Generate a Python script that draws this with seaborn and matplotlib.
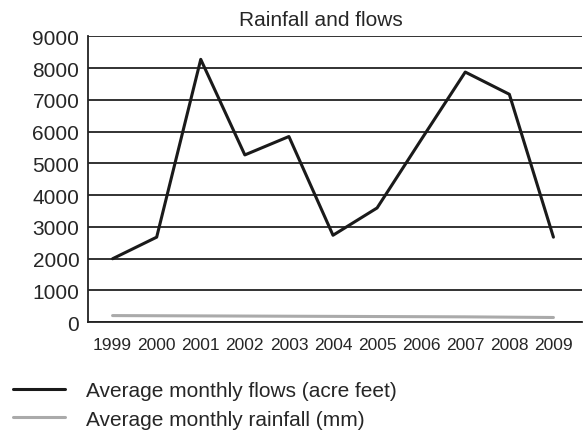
import matplotlib
matplotlib.use("Agg")
import matplotlib.pyplot as plt
import matplotlib.transforms as mtransforms
import pandas as pd
import seaborn as sns

# 値は画像から読み取った推定値
years = [1999, 2000, 2001, 2002, 2003, 2004, 2005, 2006, 2007, 2008, 2009]
flows = [2000, 2680, 8280, 5270, 5850, 2740, 3600, 5750, 7880, 7180, 2680]
rainfall = [210, 205, 200, 195, 190, 185, 180, 175, 170, 160, 150]
y_ticks = [0, 1000, 2000, 3000, 4000, 5000, 6000, 7000, 8000, 9000]
# 横軸ラベルの上下のずれ (px)
label_shift = [0, -1, 0, -3, -1, -2, -2, 0, 0, -2, 3]

df = pd.DataFrame({"year": years, "flows": flows, "rainfall": rainfall})

sns.set_theme(style="white")
plt.rcParams["font.family"] = ["Liberation Sans", "DejaVu Sans"]

fig = plt.figure(figsize=(5.85, 4.31), dpi=100)
ax = fig.add_axes([0.151, 0.25, 0.844, 0.663])

for y in y_ticks:
    ax.axhline(y, color="#222222", linewidth=1.3, zorder=1)

sns.lineplot(data=df, x="year", y="rainfall", ax=ax, color="#aaaaaa",
             linewidth=2.2, label="Average monthly rainfall (mm)", zorder=2)
sns.lineplot(data=df, x="year", y="flows", ax=ax, color="#1a1a1a",
             linewidth=2.2, label="Average monthly flows (acre feet)", zorder=3)

ax.set_xlim(1998.45, 2009.65)
ax.set_ylim(0, 9000)
ax.set_yticks(y_ticks)
ax.set_xticks(years)
ax.set_xticklabels([str(y) for y in years], fontsize=12.5)
for lab, dy in zip(ax.get_xticklabels(), label_shift):
    lab.set_transform(lab.get_transform()
                      + mtransforms.ScaledTranslation(0, dy / 100, fig.dpi_scale_trans))
ax.tick_params(axis="y", labelsize=15, length=0, pad=6.5)
ax.tick_params(axis="x", length=0, pad=10.5)
ax.set_xlabel("")
ax.set_ylabel("")
ax.set_title("Rainfall and flows", fontsize=15, pad=8, x=0.47)

for side in ["top", "right"]:
    ax.spines[side].set_visible(False)
for side in ["left", "bottom"]:
    ax.spines[side].set_color("#222222")
    ax.spines[side].set_linewidth(1.3)

handles, labels = ax.get_legend_handles_labels()
ax.get_legend().remove()
fig.legend(handles[::-1], labels[::-1], loc="upper left",
           bbox_to_anchor=(0.022, 0.113), frameon=False, fontsize=15,
           handlelength=2.5, handletextpad=1.0, labelspacing=0.45,
           borderpad=0, borderaxespad=0)

fig.savefig("out.png", dpi=100)
plt.close(fig)
